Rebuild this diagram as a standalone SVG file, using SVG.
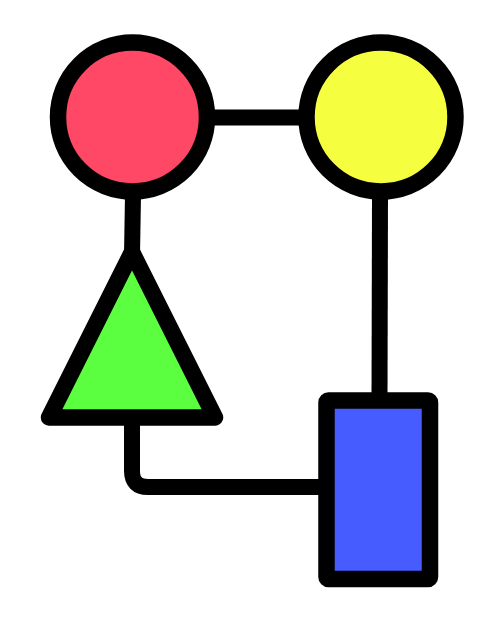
<svg xmlns="http://www.w3.org/2000/svg" width="498" height="622" viewBox="0 0 498 622">
<style>
.edge{fill:none;stroke:#000;stroke-width:16;stroke-linecap:butt;stroke-linejoin:round}
.node{stroke:#000;stroke-width:16.5;stroke-linejoin:round}
</style>
<rect width="498" height="622" fill="#fff"/>
<g id="connectors">
<line class="edge" x1="210" y1="117.5" x2="303" y2="117.5"/>
<line class="edge" x1="133" y1="195" x2="132" y2="255"/>
<line class="edge" x1="380" y1="195" x2="379.5" y2="400"/>
<path class="edge" d="M132,412 V471 Q132,487 148,487 H330"/>
</g>
<g id="node-red"><circle class="node" cx="132.5" cy="117" r="74.5" fill="#ff4766"/></g>
<g id="node-yellow"><circle class="node" cx="381" cy="117" r="74.5" fill="#f5ff40"/></g>
<g id="node-green"><polygon class="node" points="132,252 215,417.5 49,417.5" fill="#5cff40"/></g>
<g id="node-blue"><rect class="node" x="326.5" y="400.5" width="103.5" height="178.5" rx="2" fill="#475cff"/></g>
</svg>
